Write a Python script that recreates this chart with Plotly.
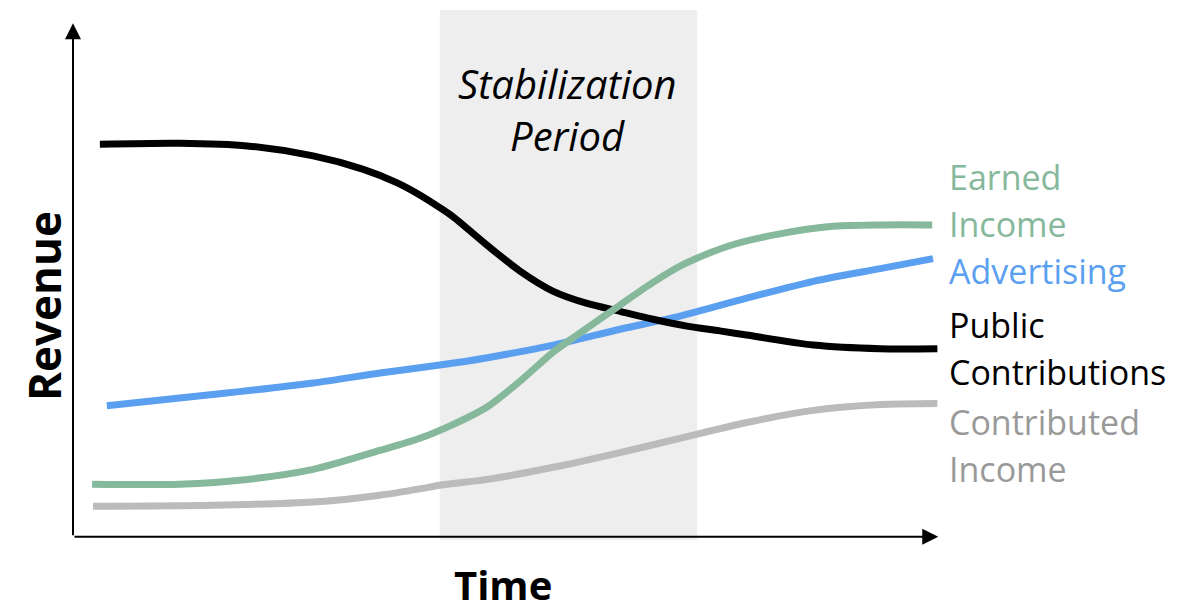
import plotly.graph_objects as go

# ---- data (time 0-100, revenue 0-100, arbitrary units) ----
public_t = [3.1, 12.3, 20.1, 27.7, 33.4, 37.4, 40.0, 42.3, 43.8, 47.8, 51.6, 55.4, 59.3, 63.1, 66.9, 70.8, 74.6, 77.7, 85.4, 93.1, 99.7]
public_r = [74.5, 74.7, 74.2, 72.3, 69.8, 67.2, 64.9, 62.5, 60.8, 55.3, 50.4, 46.6, 44.3, 42.8, 41.3, 40.0, 39.1, 38.3, 36.4, 35.7, 35.7]

earned_t = [2.2, 12.3, 20.1, 27.7, 35.4, 40.0, 43.8, 47.8, 51.6, 55.4, 58.5, 63.1, 66.9, 70.4, 75.8, 81.5, 87.3, 93.1, 99.1]
earned_r = [10.0, 10.0, 10.9, 12.8, 16.4, 18.7, 21.3, 24.7, 29.6, 35.1, 38.7, 44.0, 48.3, 51.7, 55.3, 57.5, 58.9, 59.2, 59.2]

advert_t = [3.9, 16.1, 27.7, 35.4, 42.3, 47.8, 55.4, 63.1, 70.0, 77.7, 85.4, 93.1, 99.2]
advert_r = [24.9, 27.0, 29.2, 31.1, 32.6, 34.0, 36.4, 39.4, 41.9, 45.3, 48.5, 50.9, 52.8]

contrib_t = [2.3, 16.1, 27.7, 35.4, 40.0, 42.3, 47.8, 55.4, 63.1, 70.0, 77.7, 85.4, 93.1, 99.7]
contrib_r = [5.8, 6.0, 6.6, 7.9, 9.1, 9.8, 10.9, 13.2, 16.0, 18.7, 21.7, 24.0, 25.1, 25.3]

stab_period = [42.3, 72.0]

# label lines (text, color)
labels = [
    ("Earned", "#86B89C"), ("Income", "#86B89C"),
    ("Advertising", "#5B9FF0"),
    ("Public", "#000000"), ("Contributions", "#000000"),
    ("Contributed", "#999999"), ("Income", "#999999"),
]
label_y = [0.685, 0.596, 0.508, 0.406, 0.317, 0.223, 0.134]

FONT = "Open Sans"

fig = go.Figure()

fig.add_shape(type="rect", xref="x", yref="paper",
              x0=stab_period[0], x1=stab_period[1], y0=0, y1=1,
              fillcolor="#EEEEEE", line_width=0, layer="below")

series = [
    (contrib_t, contrib_r, "#BBBBBB", 7),
    (advert_t, advert_r, "#5B9FF0", 7),
    (public_t, public_r, "#000000", 7),
    (earned_t, earned_r, "#86B89C", 7),
]
for t, r, c, w in series:
    fig.add_trace(go.Scatter(x=t, y=r, mode="lines",
                             line=dict(color=c, width=w, shape="spline", smoothing=0.8),
                             hoverinfo="skip", showlegend=False))

# axes with arrows
fig.add_annotation(x=99.8, y=0, ax=0, ay=0, xref="x", yref="y", axref="x", ayref="y",
                   text="", showarrow=True, arrowhead=2, arrowsize=1.6, arrowwidth=2,
                   arrowcolor="black", standoff=0)
fig.add_annotation(x=0, y=97.5, ax=0, ay=0, xref="x", yref="y", axref="x", ayref="y",
                   text="", showarrow=True, arrowhead=2, arrowsize=1.6, arrowwidth=2,
                   arrowcolor="black", standoff=0)

# stabilization text
for txt, yy in (("Stabilization", 0.861), ("Period", 0.763)):
    fig.add_annotation(x=57.0, y=yy, xref="x", yref="paper", text=txt,
                       xanchor="center", yanchor="middle", showarrow=False,
                       font=dict(family=FONT, size=40, color="black", style="italic"))

# right labels
for (txt, col), yy in zip(labels, label_y):
    fig.add_annotation(x=1.0075, y=yy, xref="paper", yref="paper", text=txt,
                       xanchor="left", yanchor="middle",
                       showarrow=False, font=dict(family=FONT, size=34, color=col))

# axis titles
fig.add_annotation(x=0.496, y=-0.0849, xref="paper", yref="paper", text="<b>Time</b>",
                   xanchor="center", yanchor="middle",
                   showarrow=False, font=dict(family=FONT, size=40, color="black"))
fig.add_annotation(x=-0.0335, y=0.4415, xref="paper", yref="paper", text="<b>Revenue</b>",
                   xanchor="center", yanchor="middle",
                   textangle=-90, showarrow=False, font=dict(family=FONT, size=44, color="black"))

fig.update_xaxes(range=[0, 100], visible=False, fixedrange=True)
fig.update_yaxes(range=[-0.6, 100], visible=False, fixedrange=True)
fig.update_layout(width=1186, height=612, margin=dict(l=73, r=246, t=10, b=72),
                  plot_bgcolor="white", paper_bgcolor="white")

fig.write_html("out.html", config={"staticPlot": True},
               post_script="document.body.style.margin='0';")
